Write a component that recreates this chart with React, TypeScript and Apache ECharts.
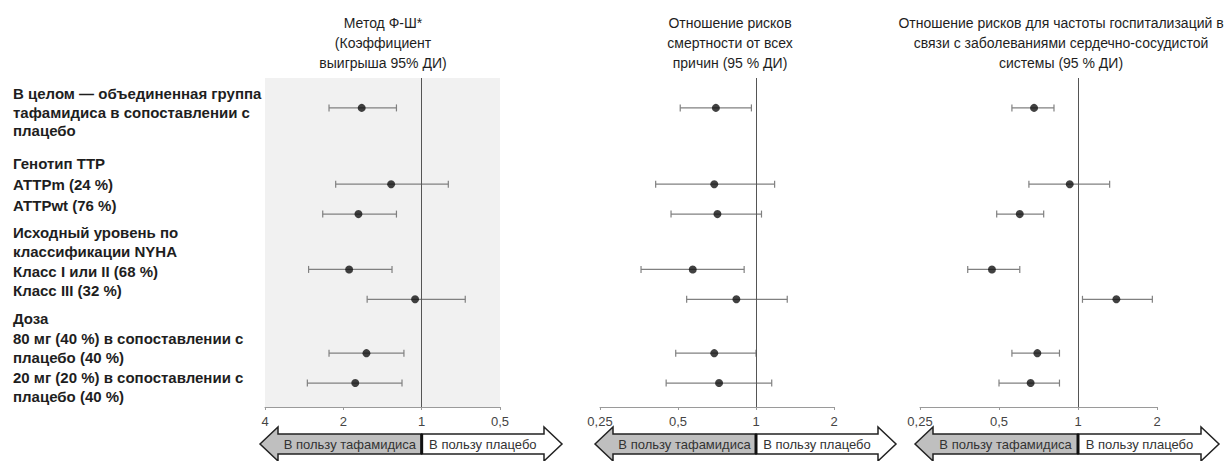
import React, { useEffect, useRef } from "react";
import * as echarts from "echarts";

// ---- Data ----
const rowPos = [1, 3.55, 4.55, 6.4, 7.4, 9.2, 10.2];

const labelLines = [
  { text: "В целом — объединенная группа", y: 93 },
  { text: "тафамидиса в сопоставлении с", y: 112 },
  { text: "плацебо", y: 130 },
  { text: "Генотип ТТР", y: 163 },
  { text: "АТТРm (24 %)", y: 184 },
  { text: "АТТРwt (76 %)", y: 205 },
  { text: "Исходный уровень по", y: 232 },
  { text: "классификации NYHA", y: 251 },
  { text: "Класс I или II (68 %)", y: 271 },
  { text: "Класс III (32 %)", y: 290 },
  { text: "Доза", y: 318 },
  { text: "80 мг (40 %) в сопоставлении с", y: 338 },
  { text: "плацебо (40 %)", y: 357 },
  { text: "20 мг (20 %) в сопоставлении с", y: 377 },
  { text: "плацебо (40 %)", y: 396 },
];

const headers = [
  ["Метод Ф-Ш*", "(Коэффициент", "выигрыша 95% ДИ)"],
  ["Отношение рисков", "смертности от всех", "причин (95 % ДИ)"],
  [
    "Отношение рисков для частоты госпитализаций в",
    "связи с заболеваниями сердечно-сосудистой",
    "системы (95 % ДИ)",
  ],
];

const winEst = [1.7, 1.31, 1.75, 1.9, 1.06, 1.63, 1.8];
const winLo = [1.25, 0.79, 1.25, 1.3, 0.68, 1.17, 1.19];
const winHi = [2.27, 2.14, 2.4, 2.72, 1.62, 2.27, 2.75];

const mortEst = [0.7, 0.69, 0.71, 0.57, 0.84, 0.69, 0.72];
const mortLo = [0.51, 0.41, 0.47, 0.36, 0.54, 0.49, 0.45];
const mortHi = [0.96, 1.18, 1.05, 0.9, 1.32, 1.0, 1.15];

const hospEst = [0.68, 0.93, 0.6, 0.47, 1.4, 0.7, 0.66];
const hospLo = [0.56, 0.65, 0.49, 0.38, 1.04, 0.56, 0.5];
const hospHi = [0.81, 1.32, 0.74, 0.6, 1.92, 0.85, 0.85];

const axisMin = [0.5, 0.25, 0.25];
const axisMax = [4, 2, 2];
const axisInverse = [true, false, false];

const favourTafamidis = "В пользу тафамидиса";
const favourPlacebo = "В пользу плацебо";

const FONT = "'Liberation Sans', Arial, sans-serif";

const panels = [
  { est: winEst, lo: winLo, hi: winHi },
  { est: mortEst, lo: mortLo, hi: mortHi },
  { est: hospEst, lo: hospLo, hi: hospHi },
];

const gridLayout = [
  { left: 265, width: 235 },
  { left: 600, width: 234 },
  { left: 920, width: 237 },
];
const headerCenters = [383, 730, 1061];

function fmt(v: number) {
  return String(Number(v.toPrecision(6))).replace(".", ",");
}

export default function App() {
  const ref = useRef<HTMLDivElement>(null);

  useEffect(() => {
    if (!ref.current) return;
    const chart = echarts.init(ref.current, undefined, { renderer: "svg" });

    const grids = gridLayout.map((g, i) => ({
      left: g.left,
      width: g.width,
      top: 78,
      height: 329,
      show: i === 0,
      backgroundColor: "#f1f1f1",
      borderWidth: 0,
    }));

    const xAxes = gridLayout.map((_, i) => ({
      type: "log",
      logBase: 2,
      gridIndex: i,
      position: "bottom",
      min: axisMin[i],
      max: axisMax[i],
      inverse: axisInverse[i],
      axisLine: { show: true, onZero: false, lineStyle: { color: "#9a9a9a", width: 1 } },
      axisTick: { show: true, length: 3, lineStyle: { color: "#9a9a9a" } },
      axisLabel: {
        formatter: (v: number) => fmt(v),
        color: "#444",
        fontSize: 13,
        fontFamily: FONT,
        margin: 8,
      },
      splitLine: { show: false },
    }));

    const yAxes = gridLayout.map((_, i) => ({
      type: "value",
      gridIndex: i,
      min: 0,
      max: 11,
      inverse: true,
      show: false,
    }));

    const series: any[] = [];
    panels.forEach((p, i) => {
      series.push({
        type: "custom",
        xAxisIndex: i,
        yAxisIndex: i,
        encode: { x: [0, 1], y: 2 },
        data: p.lo.map((lo, k) => [lo, p.hi[k], rowPos[k]]),
        renderItem: (params: any, api: any) => {
          const a = api.coord([api.value(0), api.value(2)]);
          const b = api.coord([api.value(1), api.value(2)]);
          const st = { stroke: "#808080", lineWidth: 1.2 };
          return {
            type: "group",
            children: [
              { type: "line", shape: { x1: a[0], y1: a[1], x2: b[0], y2: b[1] }, style: st },
              { type: "line", shape: { x1: a[0], y1: a[1] - 3.5, x2: a[0], y2: a[1] + 3.5 }, style: st },
              { type: "line", shape: { x1: b[0], y1: b[1] - 3.5, x2: b[0], y2: b[1] + 3.5 }, style: st },
            ],
          };
        },
        z: 2,
      });
      series.push({
        type: "scatter",
        xAxisIndex: i,
        yAxisIndex: i,
        symbol: "circle",
        symbolSize: 8,
        itemStyle: { color: "#111" },
        data: p.est.map((v, k) => [v, rowPos[k]]),
        z: 3,
        markLine: {
          silent: true,
          symbol: "none",
          label: { show: false },
          lineStyle: { color: "#555", width: 1, type: "solid" },
          data: [{ xAxis: 1 }],
        },
      });
    });

    const graphic: any[] = [];
    labelLines.forEach((l) => {
      graphic.push({
        type: "text",
        x: 13,
        y: l.y,
        style: {
          text: l.text,
          font: `bold 15px ${FONT}`,
          fill: "#1e1e1e",
          textAlign: "left",
          textVerticalAlign: "middle",
          align: "left",
          verticalAlign: "middle",
        },
      });
    });
    headers.forEach((lines, i) => {
      lines.forEach((t, j) => {
        graphic.push({
          type: "text",
          x: headerCenters[i],
          y: 23 + j * 20,
          style: {
            text: t,
            font: `14px ${FONT}`,
            fill: "#1e1e1e",
            textAlign: "center",
            textVerticalAlign: "middle",
            align: "center",
            verticalAlign: "middle",
          },
        });
      });
    });

    chart.setOption({
      animation: false,
      grid: grids,
      xAxis: xAxes,
      yAxis: yAxes,
      series,
      graphic,
    });

    // Arrows under each panel, divider aligned with value 1 on each axis
    const yc = 444;
    const bodyH = 10;
    const headH = 17;
    const headL = 18;
    panels.forEach((_, i) => {
      const px = (v: number) => chart.convertToPixel({ xAxisIndex: i } as any, v) as number;
      const xD = px(1);
      const leftVal = axisInverse[i] ? axisMax[i] : axisMin[i];
      const rightVal = axisInverse[i] ? axisMin[i] : axisMax[i];
      const xL = px(leftVal) - 5;
      const xR = px(rightVal) + 62;
      graphic.push({
        type: "polygon",
        shape: {
          points: [
            [xL, yc],
            [xL + headL, yc - headH],
            [xL + headL, yc - bodyH],
            [xD, yc - bodyH],
            [xD, yc + bodyH],
            [xL + headL, yc + bodyH],
            [xL + headL, yc + headH],
          ],
        },
        style: { fill: "#bfbfbf", stroke: "#222", lineWidth: 1.5 },
      });
      graphic.push({
        type: "polygon",
        shape: {
          points: [
            [xD, yc - bodyH],
            [xR - headL, yc - bodyH],
            [xR - headL, yc - headH],
            [xR, yc],
            [xR - headL, yc + headH],
            [xR - headL, yc + bodyH],
            [xD, yc + bodyH],
          ],
        },
        style: { fill: "#ffffff", stroke: "#222", lineWidth: 1.5 },
      });
      graphic.push({
        type: "rect",
        shape: { x: xD - 1.5, y: yc - bodyH, width: 3, height: bodyH * 2 },
        style: { fill: "#111" },
      });
      graphic.push({
        type: "text",
        x: (xL + headL + xD) / 2,
        y: yc,
        style: {
          text: favourTafamidis,
          font: `13px ${FONT}`,
          fill: "#333",
          textAlign: "center",
          textVerticalAlign: "middle",
          align: "center",
          verticalAlign: "middle",
        },
      });
      graphic.push({
        type: "text",
        x: (xD + xR - headL) / 2,
        y: yc,
        style: {
          text: favourPlacebo,
          font: `13px ${FONT}`,
          fill: "#333",
          textAlign: "center",
          textVerticalAlign: "middle",
          align: "center",
          verticalAlign: "middle",
        },
      });
    });

    chart.setOption({ graphic });

    return () => chart.dispose();
  }, []);

  return (
    <div
      ref={ref}
      style={{ position: "absolute", left: 0, top: 0, width: 1230, height: 461, background: "#fff" }}
    />
  );
}
